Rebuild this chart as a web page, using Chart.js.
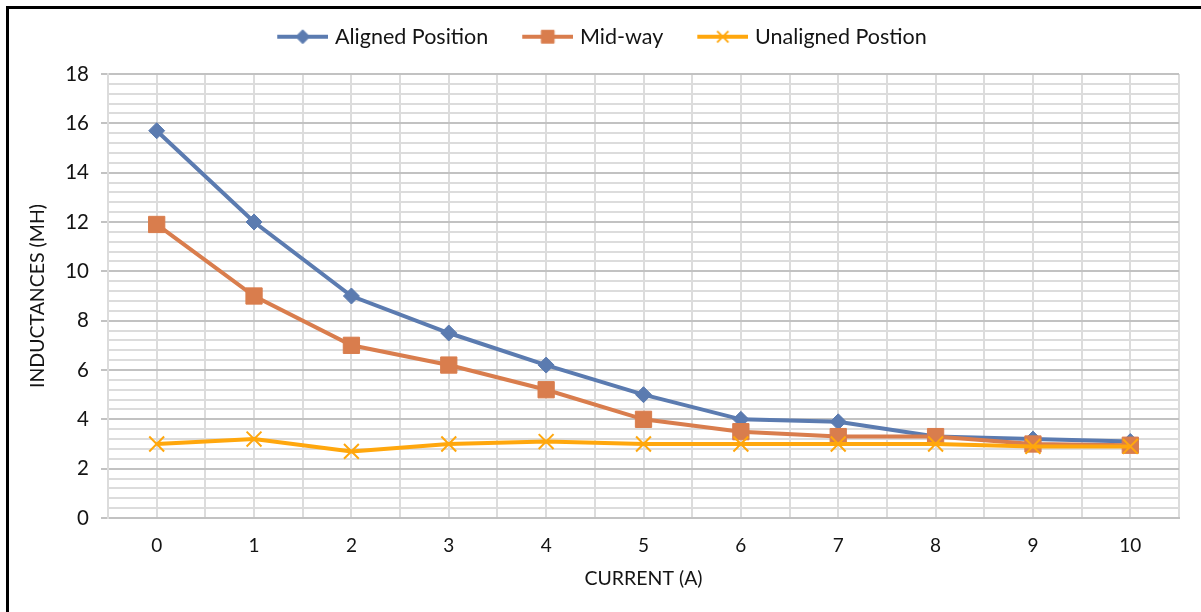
<!DOCTYPE html>
<html>
<head>
<meta charset="utf-8">
<title>Inductance vs Current</title>
<script src="https://cdn.jsdelivr.net/npm/chart.js@4.4.1/dist/chart.umd.min.js"></script>
<style>
  html, body { margin: 0; padding: 0; background: #fff; }
  #wrap { position: relative; width: 1201px; height: 612px; overflow: hidden; }
  #wrap canvas { position: absolute; left: 0; top: 0; }
  #frame {
    position: absolute; left: 6px; top: 6px; right: -10px; bottom: -10px;
    border-left: 3px solid #000; border-top: 3px solid #000; pointer-events: none;
  }
</style>
</head>
<body>
<div id="wrap">
  <canvas id="chart" width="1201" height="612"></canvas>
  <div id="frame"></div>
</div>
<script>
// Current steps (A) and the measured inductances (mH) for each rotor position
const currents = [0, 1, 2, 3, 4, 5, 6, 7, 8, 9, 10];
const xTickLabels = ['0', '1', '2', '3', '4', '5', '6', '7', '8', '9', '10'];
const alignedPosition = [15.7, 12.0, 9.0, 7.5, 6.2, 5.0, 4.0, 3.9, 3.3, 3.2, 3.1];
const midWay = [11.9, 9.0, 7.0, 6.2, 5.2, 4.0, 3.5, 3.3, 3.3, 3.0, 2.95];
const unalignedPosition = [3.0, 3.2, 2.7, 3.0, 3.1, 3.0, 3.0, 3.0, 3.0, 2.9, 2.9];
const seriesNames = ['Aligned Position', 'Mid-way', 'Unaligned Postion'];
const yTickLabels = ['0', '2', '4', '6', '8', '10', '12', '14', '16', '18'];

const FONT = 'Lato, "Open Sans", "DejaVu Sans", sans-serif';
const TEXT = '#141414';
const LEGEND_SIZE = 21.5;

const styles = [
  { color: '#5b7bb0', pointStyle: 'rectRot', radius: 8, legendRadius: 7, pointBorderWidth: 1 },
  { color: '#d97d4d', pointStyle: 'rect', radius: 11.5, legendRadius: 9, pointBorderWidth: 1 },
  { color: '#ffa70d', pointStyle: 'crossRot', radius: 10.5, legendRadius: 8, pointBorderWidth: 2 }
];

const toPoints = values => currents.map((x, i) => ({ x, y: values[i] }));
const seriesValues = [alignedPosition, midWay, unalignedPosition];

// Minor grid every 0.4, major (labelled) every 2
const isMajor = v => Math.abs(v / 2 - Math.round(v / 2)) < 1e-6;

// Legend symbol: a short line with the series marker in the middle
function legendSymbol(style) {
  const c = document.createElement('canvas');
  c.width = 80; c.height = 22;
  const g = c.getContext('2d');
  g.strokeStyle = style.color;
  g.lineWidth = 4;
  g.beginPath(); g.moveTo(29, 11); g.lineTo(80, 11); g.stroke();
  g.fillStyle = style.color;
  g.lineWidth = style.pointBorderWidth;
  Chart.helpers.drawPoint(g, { pointStyle: style.pointStyle, radius: style.legendRadius, rotation: 0, borderWidth: style.pointBorderWidth }, 54.5, 11);
  return c;
}

const datasets = seriesNames.map((name, i) => ({
  label: name,
  data: toPoints(seriesValues[i]),
  borderColor: styles[i].color,
  backgroundColor: styles[i].color,
  borderWidth: 4,
  tension: 0,
  fill: false,
  pointStyle: styles[i].pointStyle,
  pointRadius: styles[i].radius,
  pointHoverRadius: styles[i].radius,
  pointBackgroundColor: styles[i].color,
  pointBorderColor: styles[i].color,
  pointBorderWidth: styles[i].pointBorderWidth,
  order: seriesNames.length - 1 - i,
  clip: false
}));

// Extra space between the legend row and the plot
const legendGap = {
  id: 'legendGap',
  beforeInit(chart) {
    const fit = chart.legend.fit;
    chart.legend.fit = function () {
      fit.call(this);
      this.height += 16.5;
    };
  }
};

new Chart(document.getElementById('chart'), {
  type: 'line',
  data: { datasets },
  plugins: [legendGap],
  options: {
    responsive: false,
    animation: false,
    events: [],
    layout: { padding: { left: 0, right: 22, top: 17, bottom: 0 } },
    plugins: {
      tooltip: { enabled: false },
      legend: {
        position: 'top',
        labels: {
          font: { family: FONT, size: LEGEND_SIZE },
          color: TEXT,
          padding: 9,
          usePointStyle: true,
          pointStyleWidth: 72,
          generateLabels(chart) {
            return chart.data.datasets.map((ds, i) => ({
              text: ds.label,
              fillStyle: ds.borderColor,
              strokeStyle: ds.borderColor,
              fontColor: TEXT,
              lineWidth: 0,
              pointStyle: legendSymbol(styles[i]),
              hidden: false,
              datasetIndex: i
            }));
          }
        }
      }
    },
    scales: {
      x: {
        type: 'linear',
        min: -0.5,
        max: 10.5,
        afterFit(scale) { scale.height = 94; },
        ticks: {
          stepSize: 0.5,
          autoSkip: false,
          maxRotation: 0,
          padding: 16,
          color: TEXT,
          font: { family: FONT, size: 19 },
          callback: v => Number.isInteger(v) ? xTickLabels[currents.indexOf(v)] : ''
        },
        grid: { color: '#dcdcdc', lineWidth: 2, drawTicks: false },
        border: { color: '#c2c2c2', width: 2 },
        title: {
          display: true,
          text: 'CURRENT (A)',
          color: TEXT,
          font: { family: FONT, size: 19.5 },
          padding: { top: 0, bottom: 22 }
        }
      },
      y: {
        type: 'linear',
        min: 0,
        max: 18,
        afterFit(scale) { scale.width = 108; },
        ticks: {
          stepSize: 0.4,
          autoSkip: false,
          maxTicksLimit: 1000,
          padding: 12,
          color: TEXT,
          font: { family: FONT, size: 20.5 },
          callback: v => isMajor(v) ? yTickLabels[Math.round(v / 2)] : ''
        },
        grid: {
          color: ctx => (ctx.tick && isMajor(ctx.tick.value)) ? '#c2c2c2' : '#dcdcdc',
          tickColor: ctx => (ctx.tick && isMajor(ctx.tick.value)) ? '#c2c2c2' : 'rgba(0,0,0,0)',
          lineWidth: 2,
          tickLength: 7
        },
        border: { color: '#dcdcdc', width: 2 },
        title: {
          display: true,
          text: 'INDUCTANCES (MH)',
          color: TEXT,
          font: { family: FONT, size: 19.5 },
          padding: { top: 26, bottom: 0 }
        }
      }
    }
  }
});
</script>
</body>
</html>
